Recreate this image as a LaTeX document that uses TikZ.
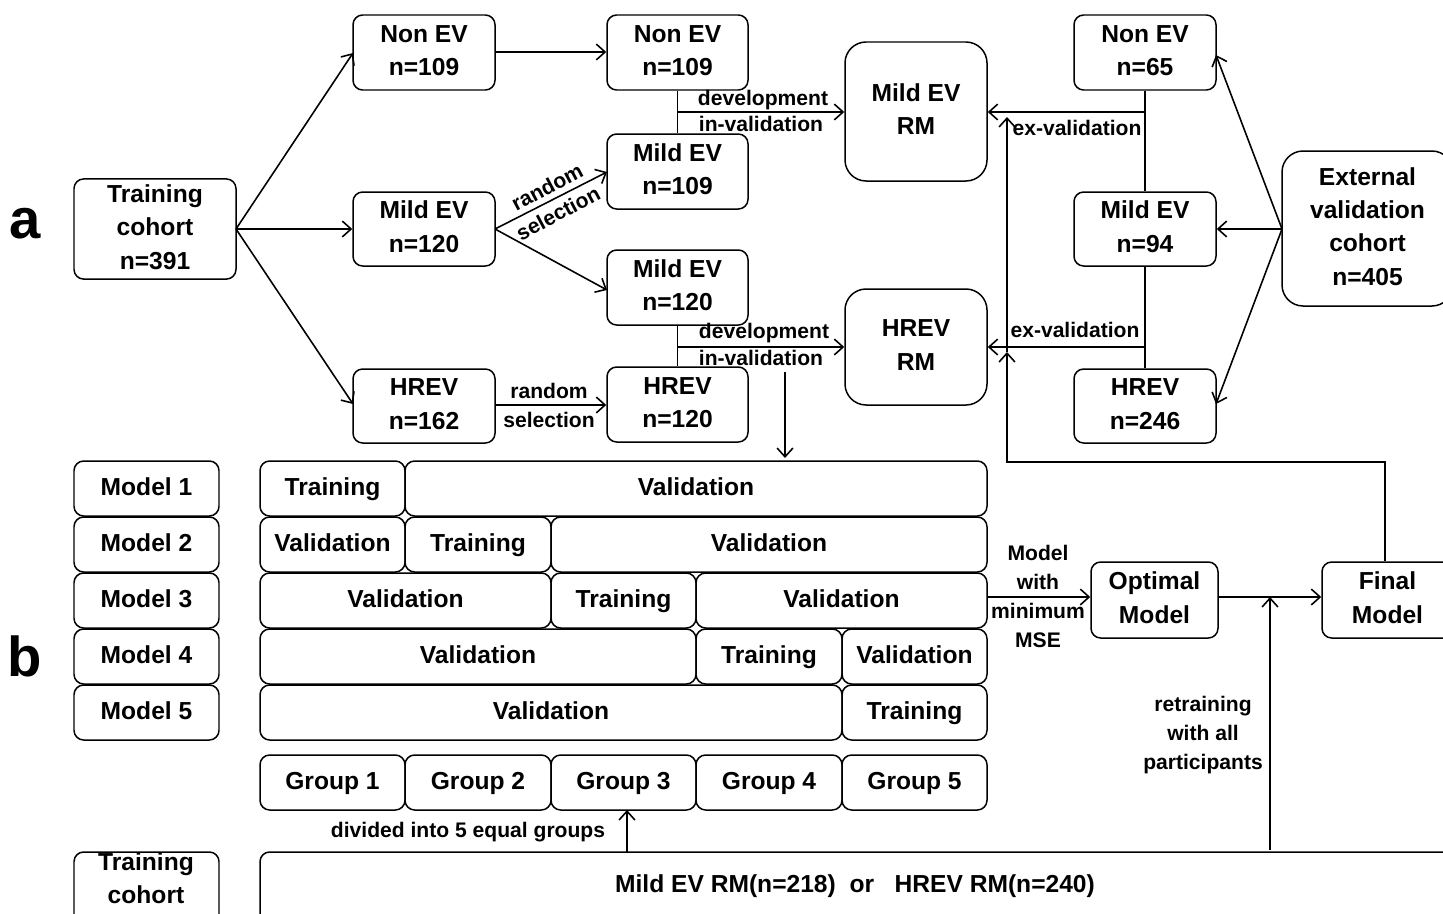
\documentclass[tikz,border=0pt]{standalone}
\usepackage{fontspec}
\setmainfont{Liberation Sans}
\usetikzlibrary{arrows.meta}
\tikzset{
  box/.style={draw, rounded corners=5.5pt, line width=0.85pt, align=center, inner sep=0pt,
    font=\bfseries\fontsize{14}{19}\selectfont},
  bigbox/.style={box, rounded corners=12pt},
  lbl/.style={inner sep=0pt, align=center, font=\bfseries\fontsize{12}{16.5}\selectfont},
  conn/.style={line width=0.9pt},
  arr/.style={conn, -{Straight Barb[length=5pt,width=9pt,line width=0.9pt]}},
  panel/.style={inner sep=0pt, font=\bfseries\fontsize{32}{36}\selectfont}
}
\newcommand\bx[7][box]{\node[#1, minimum width={(#5-#3)*0.02cm}, minimum height={(#6-#4)*0.02cm}] (#2) at ({(#3+#5)/2},{(#4+#6)/2}) {\strut#7\strut};}
\begin{document}
\begin{tikzpicture}[x=0.02cm,y=-0.02cm]
\useasboundingbox (0,0) rectangle (1443,913);
\clip (0,0) rectangle (1443,913);
\fill[white] (0,0) rectangle (1443,913);

% panel labels
\node[panel] (pa) at (25,224) {a};
\node[panel] (pb) at (25,656) {b};

% part a boxes
\bx{tc}{74}{181}{236}{277}{Training\\cohort\\n=391}
\bx{ne1}{353}{15}{495}{90}{Non EV\\n=109}
\bx{me1}{353}{192}{495}{266}{Mild EV\\n=120}
\bx{hr1}{353}{369}{495}{443}{HREV\\n=162}
\bx{ne2}{607}{15}{748}{90}{Non EV\\n=109}
\bx{me2}{607}{134}{748}{209}{Mild EV\\n=109}
\bx{me3}{607}{250}{748}{325}{Mild EV\\n=120}
\bx{hr2}{607}{367}{748}{442}{HREV\\n=120}
\bx[bigbox]{mrm}{845}{42}{987}{181}{Mild EV\\RM}
\bx[bigbox]{hrm}{845}{289}{987}{405}{HREV\\RM}
\bx{ne3}{1074}{15}{1216}{90}{Non EV\\n=65}
\bx{me4}{1074}{192}{1216}{266}{Mild EV\\n=94}
\bx{hr3}{1074}{369}{1216}{443}{HREV\\n=246}
\bx[bigbox]{ext}{1282}{151}{1453}{306}{External\\validation\\cohort\\n=405}

% part a connectors
\coordinate (tcr) at (236,229);
\draw[arr] (tcr) -- (353,53);
\draw[arr] (tcr) -- (me1.west);
\draw[arr] (tcr) -- (353,404);
\draw[arr] (ne1.east |- 0,52) -- (ne2.west |- 0,52);
\coordinate (mer) at (495,229);
\draw[arr] (mer) -- (607,172);
\node[lbl, rotate=28] (rs1) at (547,187) {random};
\node[lbl, rotate=28] (rs2) at (558,213) {selection};
\draw[arr] (mer) -- (607,290);
\draw[arr] (hr1.east |- 0,405) -- (hr2.west |- 0,405);
\node[lbl] (rs3) at (549,391) {random};
\node[lbl] (rs4) at (549,420) {selection};

\draw[conn] (ne2.south) -- (me2.north);
\coordinate (d1) at (678,112);
\draw[arr] (d1) -- (mrm.west |- d1);
\node[lbl] (dv1) at (763,100) {development};
\node[lbl] (iv1) at (761,124) {in-validation};
\draw[conn] (me3.south) -- (hr2.north);
\coordinate (d2) at (678,347);
\draw[arr] (d2) -- (hrm.west |- d2);
\node[lbl] (dv2) at (764,333) {development};
\node[lbl] (iv2) at (761,358) {in-validation};

\draw[conn] (ne3.south) -- (me4.north);
\coordinate (e1) at (1145,112);
\draw[arr] (e1) -- (mrm.east |- e1);
\node[lbl] (ev1) at (1077,128) {ex-validation};
\draw[conn] (me4.south) -- (hr3.north);
\coordinate (e2) at (1145,347);
\draw[arr] (e2) -- (hrm.east |- e2);
\node[lbl] (ev2) at (1075,330) {ex-validation};

\coordinate (extl) at (1282,229);
\draw[arr] (extl) -- (1216,55);
\draw[arr] (extl) -- (me4.east);
\draw[arr] (extl) -- (1216,404);

% part b
\bx{m1}{74}{461}{219}{516}{Model 1}
\bx{m2}{74}{517}{219}{572}{Model 2}
\bx{m3}{74}{573}{219}{628}{Model 3}
\bx{m4}{74}{629}{219}{684}{Model 4}
\bx{m5}{74}{685}{219}{740}{Model 5}

\bx{r1a}{260}{461}{405}{516}{Training}
\bx{r1b}{405}{461}{987}{516}{Validation}
\bx{r2a}{260}{517}{405}{572}{Validation}
\bx{r2b}{405}{517}{551}{572}{Training}
\bx{r2c}{551}{517}{987}{572}{Validation}
\bx{r3a}{260}{573}{551}{628}{Validation}
\bx{r3b}{551}{573}{696}{628}{Training}
\bx{r3c}{696}{573}{987}{628}{Validation}
\bx{r4a}{260}{629}{696}{684}{Validation}
\bx{r4b}{696}{629}{842}{684}{Training}
\bx{r4c}{842}{629}{987}{684}{Validation}
\bx{r5a}{260}{685}{842}{740}{Validation}
\bx{r5b}{842}{685}{987}{740}{Training}

\bx{g1}{260}{755}{405}{810}{Group 1}
\bx{g2}{405}{755}{551}{810}{Group 2}
\bx{g3}{551}{755}{696}{810}{Group 3}
\bx{g4}{696}{755}{842}{810}{Group 4}
\bx{g5}{842}{755}{987}{810}{Group 5}

\bx{tc2}{74}{852}{219}{940}{}
\node[box, draw=none, anchor=north] (tc2t) at (146,852) {Training\\cohort};
\bx{all}{260}{852}{1460}{940}{}
\node[box, draw=none] (allt) at (855,886) {Mild EV RM(n=218)\ \ or\ \ \ HREV RM(n=240)};

\bx{opt}{1091}{562}{1218}{638}{Optimal\\Model}
\bx{fin}{1322}{562}{1453}{638}{Final\\Model}

% part b connectors
\draw[arr] (785,372) -- (785,458);
\draw[arr] (627,852) -- (627,810);
\node[lbl, font=\bfseries\fontsize{12}{16}\selectfont] (div) at (468,832) {divided into 5 equal groups};
\draw[arr] (987,597) -- (opt.west |- 0,597);
\node[lbl] (mse) at (1038,596) {Model\\with\\minimum\\MSE};
\draw[arr] (opt.east |- 0,597) -- (fin.west |- 0,597);
\draw[arr] (1270,850) -- (1270,597);
\node[lbl] (ret) at (1203,735) {retraining\\with all\\participants};
\draw[arr] (fin.north -| 1385,0) |- (1007,462) -- (1007,352);
\draw[arr] (1007,352) -- (1007,117);
\end{tikzpicture}
\end{document}
